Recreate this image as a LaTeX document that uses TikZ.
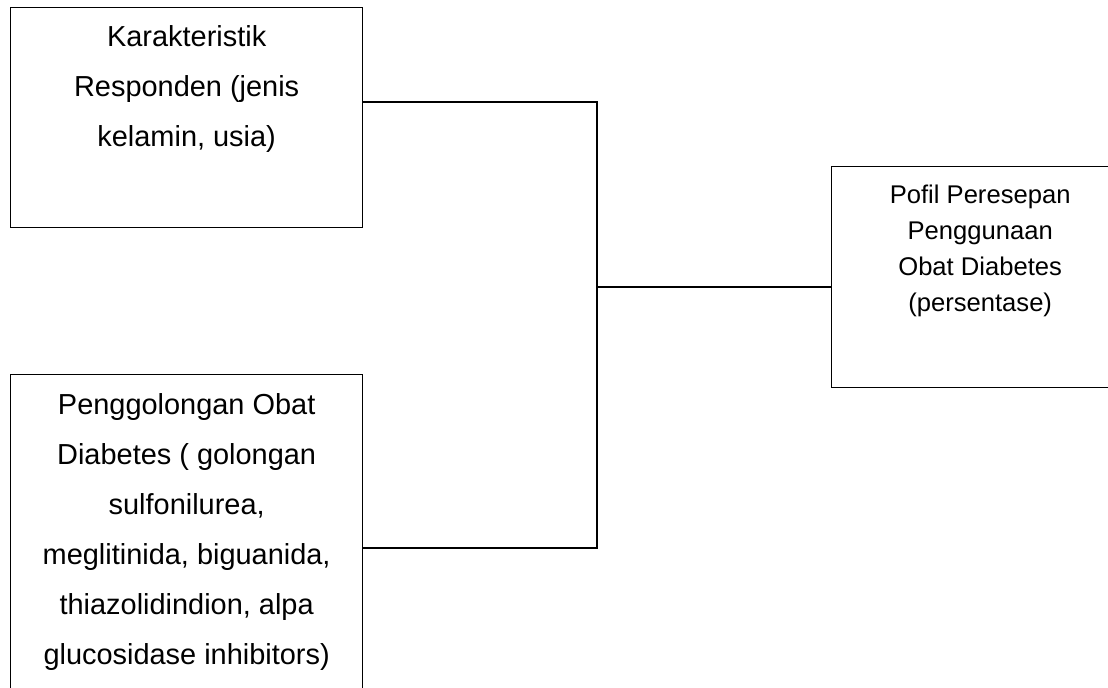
\documentclass[tikz,border=0pt]{standalone}
\usepackage{fontspec}
\setmainfont{Liberation Sans}
\usetikzlibrary{positioning, calc}

% width, height, first baseline, text
\newcommand{\boxtext}[4]{%
  \parbox[c][#2][t]{#1}{\centering\rule{0pt}{#3}#4}}

\begin{document}
\begin{tikzpicture} [%
    x = 0.75pt, y = -0.75pt,
    line width = 1pt,
    framebox/.style = {%
      draw, rectangle,
      inner sep = 0pt,
      anchor = north west,
      font = \fontsize{21.7}{37.5}\selectfont },
    resultbox/.style = {%
      framebox,
      font = \fontsize{19.2}{27}\selectfont }
  ]

\useasboundingbox (0,0) rectangle (1108,687);

\node[framebox]  (karakter) at (10,7)
  {\boxtext{264pt}{165pt}{29pt}{Karakteristik\\ Responden (jenis\\ kelamin, usia)}};
\node[framebox]  (golongan) at (10,374)
  {\boxtext{264pt}{244.5pt}{30.2pt}{Penggolongan Obat\\ Diabetes ( golongan\\ sulfonilurea,\\
   meglitinida, biguanida,\\ thiazolidindion, alpa\\ glucosidase inhibitors)}};
\node[resultbox] (profil)   at (831,166)
  {\boxtext{222.75pt}{165.75pt}{27.75pt}{Pofil Peresepan\\ Penggunaan\\ Obat Diabetes\\ (persentase)}};

\coordinate (top) at (597,102);
\coordinate (mid) at (597,287);
\coordinate (bot) at (597,548);

\draw (karakter.east |- top) -- (top) -- (bot) -- (golongan.east |- bot);
\draw (mid) -- (profil.west |- mid);

\end{tikzpicture}
\end{document}
